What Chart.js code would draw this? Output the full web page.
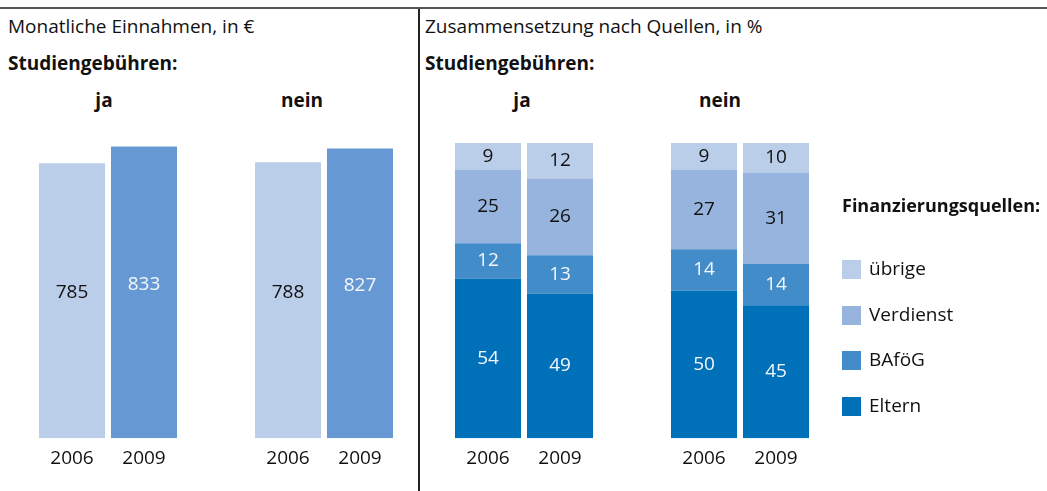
<!DOCTYPE html>
<html lang="de">
<head>
  <meta charset="UTF-8">
  <title>Einnahmen und Finanzierungsquellen</title>
  <script src="https://cdn.jsdelivr.net/npm/chart.js"></script>
  <style>
    body { margin: 0; background: #fff; font-family: "Open Sans", sans-serif; color: #111; }
    #page { position: relative; width: 1047px; height: 491px; overflow: hidden; }
    .topline { position: absolute; left: 0; top: 7px; width: 1047px; height: 2px; background: #555; }
    .vline { position: absolute; left: 418px; top: 9px; width: 2px; height: 482px; background: #222; }
    .txt { position: absolute; white-space: nowrap; font-size: 19px; line-height: 22px; }
    .bold { font-weight: bold; }
    .ctr { width: 100px; text-align: center; }
    .canvas-box { position: absolute; top: 0; height: 491px; }
    #legend { position: absolute; left: 842px; top: 0; }
    .leg-item { position: absolute; left: 0; white-space: nowrap; font-size: 19px; line-height: 22px; }
    .leg-head { font-size: 18px; }
    .leg-item span.box { display: inline-block; width: 19px; height: 19px; vertical-align: -4px; margin-right: 8px; }
  </style>
</head>
<body>
<div id="page">
  <div class="topline"></div>
  <div class="vline"></div>

  <div class="txt" style="left:8px; top:15px;">Monatliche Einnahmen, in €</div>
  <div class="txt bold" style="left:8px; top:52px;">Studiengebühren:</div>
  <div class="txt bold ctr" style="left:54px; top:89px;">ja</div>
  <div class="txt bold ctr" style="left:252px; top:89px;">nein</div>

  <div class="txt" style="left:425px; top:15px;">Zusammensetzung nach Quellen, in %</div>
  <div class="txt bold" style="left:425px; top:52px;">Studiengebühren:</div>
  <div class="txt bold ctr" style="left:472px; top:89px;">ja</div>
  <div class="txt bold ctr" style="left:670px; top:89px;">nein</div>

  <div class="canvas-box" style="left:0; width:418px;"><canvas id="incomeChart"></canvas></div>
  <div class="canvas-box" style="left:420px; width:627px;"><canvas id="sourceChart"></canvas></div>

  <div id="legend"></div>
</div>
<script>
  // categories
  const years = ['2006', '2009'];
  const groups = ['ja', 'nein'];

  // monthly income in euro (2006, 2009)
  const incomeJa = [785, 833];
  const incomeNein = [788, 827];

  // composition by source in % -> order: ja 2006, ja 2009, nein 2006, nein 2009
  const sourceNames = ['Eltern', 'BAföG', 'Verdienst', 'übrige'];
  const eltern = [54, 49, 50, 45];
  const bafoeg = [12, 13, 14, 14];
  const verdienst = [25, 26, 27, 31];
  const uebrige = [9, 12, 9, 10];

  const yearColors = ['#bacde9', '#6699d3'];
  const yearTextColors = ['#111', '#f4f6fb'];
  const sourceColors = ['#0070b9', '#438cca', '#96b4de', '#bacde9'];
  const sourceTextColors = ['#f4f6fb', '#f4f6fb', '#111', '#111'];

  // two groups of two bars with an empty slot between them
  const xLabels = [...years, '', ...years];
  const spread = (a, b) => [a[0], a[1], null, b[0], b[1]];

  const valueLabels = {
    id: 'valueLabels',
    afterDatasetsDraw(chart, args, opts) {
      const ctx = chart.ctx;
      ctx.save();
      ctx.font = opts.font;
      ctx.textAlign = 'center';
      ctx.textBaseline = 'middle';
      chart.data.datasets.forEach((ds, di) => {
        const meta = chart.getDatasetMeta(di);
        meta.data.forEach((bar, i) => {
          const v = ds.data[i];
          if (v === null || v === undefined) return;
          ctx.fillStyle = Array.isArray(ds.textColor) ? ds.textColor[i] : ds.textColor;
          ctx.fillText(String(v), bar.x, (bar.y + bar.base) / 2 + (opts.shift || 0));
        });
      });
      ctx.restore();
    }
  };

  const xAxis = {
    grid: { display: false, drawTicks: false },
    border: { display: false },
    ticks: { color: '#111', font: { family: 'Open Sans', size: 19 }, padding: 9 }
  };

  Chart.defaults.font.family = 'Open Sans';
  Chart.defaults.animation = false;

  new Chart(document.getElementById('incomeChart'), {
    type: 'bar',
    data: {
      labels: xLabels,
      datasets: [{
        data: spread(incomeJa, incomeNein),
        backgroundColor: spread(yearColors, yearColors),
        textColor: spread(yearTextColors, yearTextColors),
        barPercentage: 0.917,
        categoryPercentage: 1
      }]
    },
    options: {
      responsive: true,
      maintainAspectRatio: false,
      layout: { padding: { left: 36, right: 22, top: 123, bottom: 12 } },
      plugins: {
        legend: { display: false },
        tooltip: { enabled: false },
        valueLabels: { font: '19px "Open Sans"', shift: -8 }
      },
      scales: {
        x: xAxis,
        y: { display: false, min: 0, max: 900 }
      }
    },
    plugins: [valueLabels]
  });

  const sourceSeries = [eltern, bafoeg, verdienst, uebrige];
  new Chart(document.getElementById('sourceChart'), {
    type: 'bar',
    data: {
      labels: xLabels,
      datasets: sourceSeries.map((s, k) => ({
        label: sourceNames[k],
        data: spread(s.slice(0, 2), s.slice(2, 4)),
        backgroundColor: sourceColors[k],
        textColor: sourceTextColors[k],
        barPercentage: 0.917,
        categoryPercentage: 1
      }))
    },
    options: {
      responsive: true,
      maintainAspectRatio: false,
      layout: { padding: { left: 32, right: 235, top: 143, bottom: 12 } },
      plugins: {
        legend: { display: false },
        tooltip: { enabled: false },
        valueLabels: { font: '19px "Open Sans"', shift: 0 }
      },
      scales: {
        x: Object.assign({ stacked: true }, xAxis),
        y: { display: false, stacked: true, min: 0, max: 100 }
      }
    },
    plugins: [valueLabels]
  });

  // legend, top entry first (reverse of stacking order)
  const legend = document.getElementById('legend');
  const head = document.createElement('div');
  head.className = 'leg-item bold leg-head';
  head.style.top = '194px';
  head.textContent = 'Finanzierungsquellen:';
  legend.appendChild(head);
  [3, 2, 1, 0].forEach((k, row) => {
    const item = document.createElement('div');
    item.className = 'leg-item';
    item.style.top = (257 + row * 45.7) + 'px';
    item.innerHTML = '<span class="box" style="background:' + sourceColors[k] + '"></span>' + sourceNames[k];
    legend.appendChild(item);
  });
</script>
</body>
</html>
